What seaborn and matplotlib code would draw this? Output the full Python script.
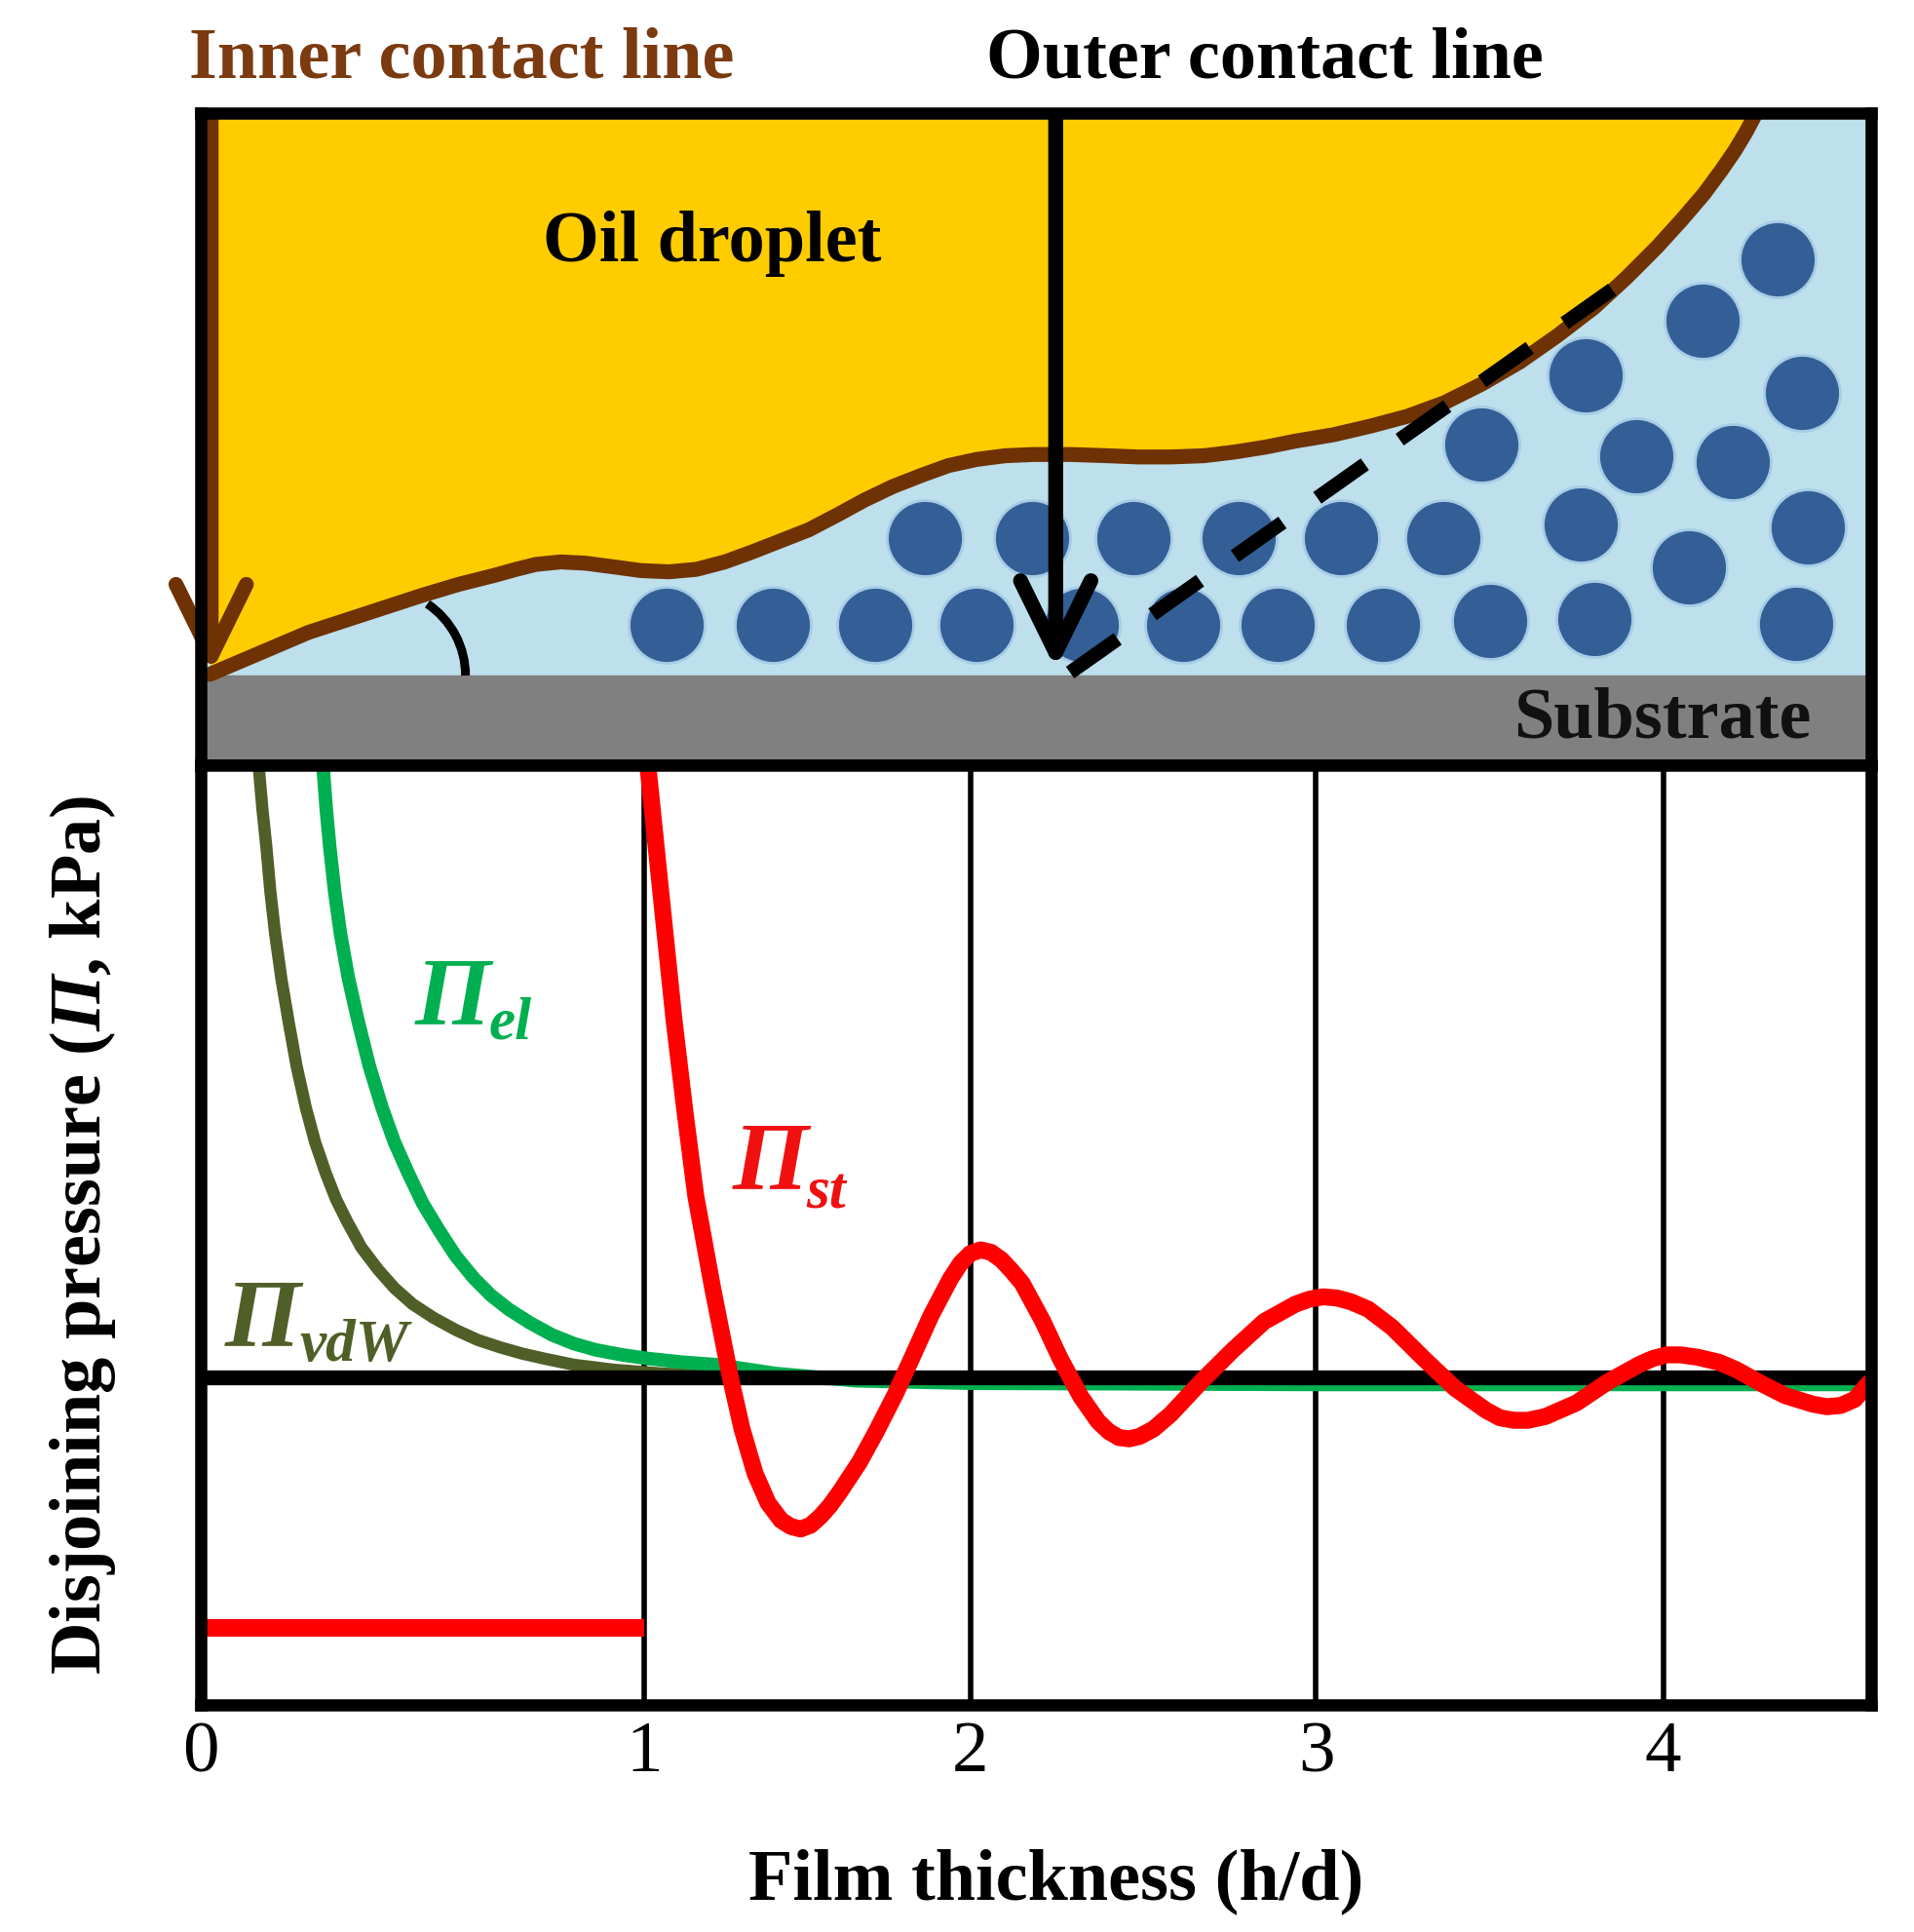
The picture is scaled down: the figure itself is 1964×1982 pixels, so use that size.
import numpy as np
import matplotlib
matplotlib.use("Agg")
import matplotlib.pyplot as plt
from matplotlib.patches import Arc
import seaborn as sns

# ===============================
# DATA
# ===============================

# disjoining pressure curves: x = h/d, y = Pi (arbitrary units, 0 = black line)
st_h = [1.012, 1.05, 1.092, 1.125, 1.158, 1.21, 1.264, 1.30, 1.34, 1.38, 1.42, 1.45,
        1.48, 1.51, 1.54, 1.57, 1.60, 1.66, 1.71, 1.77, 1.82, 1.88, 1.94, 1.97, 2.00,
        2.03, 2.06, 2.09, 2.12, 2.15, 2.21, 2.26, 2.32, 2.37, 2.40, 2.43, 2.46, 2.49,
        2.53, 2.58, 2.67, 2.76, 2.85, 2.94, 2.98, 3.02, 3.06, 3.10, 3.15, 3.22, 3.31,
        3.40, 3.49, 3.53, 3.57, 3.61, 3.66, 3.75, 3.84, 3.93, 3.97, 4.01, 4.05, 4.10,
        4.16, 4.21, 4.28, 4.35, 4.43, 4.47, 4.51, 4.55, 4.59]
st_p = [4.93, 3.95, 2.88, 2.15, 1.47, 0.72, 0.0, -0.42, -0.78, -1.02, -1.16, -1.21,
        -1.23, -1.20, -1.13, -1.04, -0.93, -0.69, -0.45, -0.14, 0.15, 0.50, 0.80, 0.92, 1.00,
        1.03, 1.01, 0.95, 0.86, 0.76, 0.45, 0.15, -0.16, -0.36, -0.44, -0.49, -0.50, -0.48,
        -0.42, -0.30, -0.03, 0.22, 0.45, 0.59, 0.63, 0.65, 0.64, 0.61, 0.55, 0.40, 0.15,
        -0.09, -0.27, -0.33, -0.35, -0.35, -0.32, -0.21, -0.04, 0.10, 0.15, 0.18, 0.18, 0.16,
        0.12, 0.06, -0.05, -0.15, -0.22, -0.24, -0.23, -0.18, -0.05]

el_h = [0.276, 0.283, 0.291, 0.302, 0.315, 0.333, 0.355, 0.380, 0.409, 0.437, 0.468,
        0.500, 0.537, 0.575, 0.616, 0.655, 0.694, 0.742, 0.793, 0.842, 0.891, 0.95,
        1.012, 1.12, 1.224, 1.40, 1.65, 2.0, 3.0, 4.0, 4.6]
el_p = [4.93, 4.60, 4.29, 3.93, 3.59, 3.23, 2.88, 2.52, 2.18, 1.90, 1.65,
        1.41, 1.19, 0.98, 0.80, 0.66, 0.55, 0.44, 0.34, 0.27, 0.22, 0.18,
        0.15, 0.12, 0.10, 0.03, -0.03, -0.05, -0.06, -0.06, -0.06]

vdw_h = [0.131, 0.139, 0.148, 0.157, 0.168, 0.182, 0.198, 0.216, 0.237, 0.258, 0.282,
         0.305, 0.330, 0.362, 0.400, 0.437, 0.478, 0.525, 0.576, 0.625, 0.676, 0.725,
         0.774, 0.841, 0.93, 1.05, 1.3, 1.6]
vdw_p = [4.93, 4.60, 4.29, 3.93, 3.58, 3.22, 2.88, 2.52, 2.18, 1.90, 1.65,
         1.44, 1.26, 1.05, 0.87, 0.72, 0.59, 0.48, 0.38, 0.30, 0.24, 0.19,
         0.15, 0.10, 0.06, 0.03, 0.0, -0.02]

wall_h = [0.0, 1.0]
wall_p = [-2.03, -2.03]

tick_vals = [0, 1, 2, 3, 4]
tick_labels = ["0", "1", "2", "3", "4"]
# the axis is hand drawn: the 0-1 interval is wider than the others
knot_h = [0, 1, 2, 3, 4, 5]
knot_pos = [163, 522, 786, 1066, 1347, 1629]

# schematic (drawing units)
iface_x = [170, 210, 250, 296, 342, 372, 400, 418, 434, 454, 474, 497, 519, 542, 564,
           587, 609, 632, 655, 678, 700, 723, 746, 768, 791, 814, 837, 867, 897, 922,
           948, 975, 1000, 1025, 1050, 1080, 1110, 1140, 1170, 1200, 1231, 1261, 1291,
           1317, 1342, 1362, 1380, 1394, 1405, 1414, 1422]
iface_y = [546, 529, 512, 497, 482, 473, 466, 461, 457, 455, 456, 459, 462, 463, 461,
           455, 447, 438, 429, 417, 405, 394, 385, 377, 372, 369, 368, 368, 369, 370,
           370, 369, 366, 362, 357, 352, 345, 337, 326, 311, 293, 272, 249,
           225, 200, 178, 157, 138, 122, 107, 92]

particle_x = [540, 626, 709, 791, 876, 958, 1035, 1120, 1207, 1291, 1455,
              749, 836, 918, 1003, 1086, 1169, 1280, 1368, 1464,
              1200, 1325, 1403, 1284, 1459, 1379, 1440]
particle_y = [506, 506, 506, 506, 506, 506, 506, 506, 503, 501, 505,
              436, 436, 436, 436, 436, 436, 425, 459, 427,
              360, 369, 374, 304, 318, 260, 210]

# ===============================
# STYLE
# ===============================
sns.set_theme(style="white")
plt.rcParams["font.family"] = ["Liberation Serif", "DejaVu Serif"]
plt.rcParams["mathtext.fontset"] = "custom"
plt.rcParams["mathtext.rm"] = "Liberation Serif:italic:bold"
plt.rcParams["mathtext.it"] = "Liberation Serif:italic:bold"
plt.rcParams["mathtext.bf"] = "Liberation Serif:bold"
plt.rcParams["text.color"] = "black"
plt.rcParams["axes.labelcolor"] = "black"
plt.rcParams["xtick.color"] = "black"
plt.rcParams["xtick.labelcolor"] = "black"

FS = 53.5
BROWN = "#6E3205"
OIL = "#FFCC00"
WATER = "#BEDFEC"
GREY = "#808080"
DOT = "#345F96"
GREEN = "#00B050"
OLIVE = "#505F28"
RED = "#FF0000"
SPINE_W = 9

fig = plt.figure(figsize=(19.64, 19.82), dpi=100)
ax_top = fig.add_axes([0.10489, 0.60394, 0.87271, 0.33729])
ax = fig.add_axes([0.10489, 0.11756, 0.87271, 0.48638])

# ===============================
# 1. SCHEMATIC
# ===============================
ax_top.set_facecolor(WATER)
ax_top.set_xlim(162.6, 1515.4)
ax_top.set_ylim(619.6, 91.9)
ax_top.axhspan(547, 700, color=GREY, zorder=1)
ax_top.fill_between(iface_x, iface_y, 60, color=OIL, lw=0, zorder=1.5)

sns.scatterplot(x=particle_x, y=particle_y, s=3150, color=DOT, edgecolor="#A6CCE6",
                linewidth=2, ax=ax_top, zorder=2, legend=False)

ax_top.add_patch(Arc((307, 547), 140, 140, theta1=-56, theta2=0, color="black",
                     lw=6.5, zorder=2.5))
sns.lineplot(x=iface_x, y=iface_y, color=BROWN, lw=11, ax=ax_top, zorder=3,
             solid_joinstyle="round", solid_capstyle="round")
ax_top.plot([866.6, 1319], [544.6, 225], color="black", lw=10.5,
            ls=(0, (4.1, 3.0)), dash_capstyle="butt", zorder=4)

arrow_kw = dict(arrowstyle="->,head_length=5.3,head_width=2.6", mutation_scale=10,
                shrinkA=0, shrinkB=0, lw=11)
ax_top.annotate("", xy=(171, 545), xytext=(171, 96),
                arrowprops=dict(color=BROWN, **arrow_kw), zorder=5)
ax_top.annotate("", xy=(855, 542), xytext=(855, 96),
                arrowprops=dict(color="black", **arrow_kw), zorder=5)

ax_top.text(439.6, 211.5, "Oil droplet", ha="left", va="baseline", fontsize=FS,
            fontweight="bold", color="black", zorder=6)
ax_top.text(1466.5, 597, "Substrate", ha="right", va="baseline", fontsize=FS,
            fontweight="bold", color="#111111", zorder=6)

ax_top.set_xticks([])
ax_top.set_yticks([])
ax_top.set_xlabel("")
ax_top.set_ylabel("")

fig.text(0.09878, 0.95964, "Inner contact line", ha="left", va="baseline",
         fontsize=FS, fontweight="bold", color="#7B3A10")
fig.text(0.51527, 0.95964, "Outer contact line", ha="left", va="baseline",
         fontsize=FS, fontweight="bold", color="black")

# ===============================
# 2. DISJOINING PRESSURE PLOT
# ===============================
def fwd(v):
    return np.interp(v, knot_h, knot_pos)

def inv(v):
    return np.interp(v, knot_pos, knot_h)

ax.set_xscale("function", functions=(fwd, inv))
ax.set_facecolor("white")

sns.lineplot(x=vdw_h, y=vdw_p, color=OLIVE, lw=9, ax=ax, zorder=2,
             solid_capstyle="butt", solid_joinstyle="round")
sns.lineplot(x=el_h, y=el_p, color=GREEN, lw=10, ax=ax, zorder=2.2,
             solid_capstyle="butt", solid_joinstyle="round")
ax.axhline(0, color="black", lw=11, zorder=2.5)
sns.lineplot(x=wall_h, y=wall_p, color=RED, lw=13, ax=ax, zorder=3,
             solid_capstyle="butt")
sns.lineplot(x=st_h, y=st_p, color=RED, lw=12.5, ax=ax, zorder=3,
             solid_joinstyle="round")

ax.set_xlim(0, 4.597)
ax.set_ylim(-2.654, 4.954)
ax.set_xticks(tick_vals)
ax.set_xticklabels(tick_labels, color="black")
ax.set_yticks([])
ax.tick_params(axis="x", length=0, pad=12, labelsize=54, labelcolor="black")
ax.set_axisbelow(True)
ax.grid(axis="x", color="black", lw=4)
ax.grid(axis="y", visible=False)

# curve labels (big Pi with a smaller subscript)
pi_kw = dict(fontsize=72, fontstyle="italic", fontweight="bold", ha="left",
             va="baseline", zorder=6)
sub_kw = dict(fontsize=44, fontstyle="italic", fontweight="bold", ha="left",
              va="baseline", zorder=6)
ax.text(0.483, 2.863, "Π", color=GREEN, **pi_kw)
ax.text(0.650, 2.739, "el", color=GREEN, **sub_kw)
ax.text(1.271, 1.524, "Π", color="#F01010", **pi_kw)
ax.text(1.496, 1.365, "st", color="#F01010", **sub_kw)
ax.text(0.055, 0.255, "Π", color=OLIVE, **pi_kw)
ax.text(0.222, 0.132, "vdW", color=OLIVE, **sub_kw)

ax.set_xlabel("Film thickness (h/d)", fontsize=FS, fontweight="bold", color="black")
ax.xaxis.set_label_coords(0.512, -0.2064)
ax.xaxis.label.set_verticalalignment("baseline")
ax.set_ylabel("Disjoining pressure ($\\Pi$, kPa)", fontsize=FS, fontweight="bold",
              color="black")
ax.yaxis.set_label_coords(-0.0708, 0.500)
ax.yaxis.label.set_verticalalignment("center")

for a in (ax_top, ax):
    for sp in a.spines.values():
        sp.set_visible(True)
        sp.set_color("black")
        sp.set_linewidth(SPINE_W)
        sp.set_zorder(10)

fig.savefig("out.png", dpi=100)
plt.close(fig)
